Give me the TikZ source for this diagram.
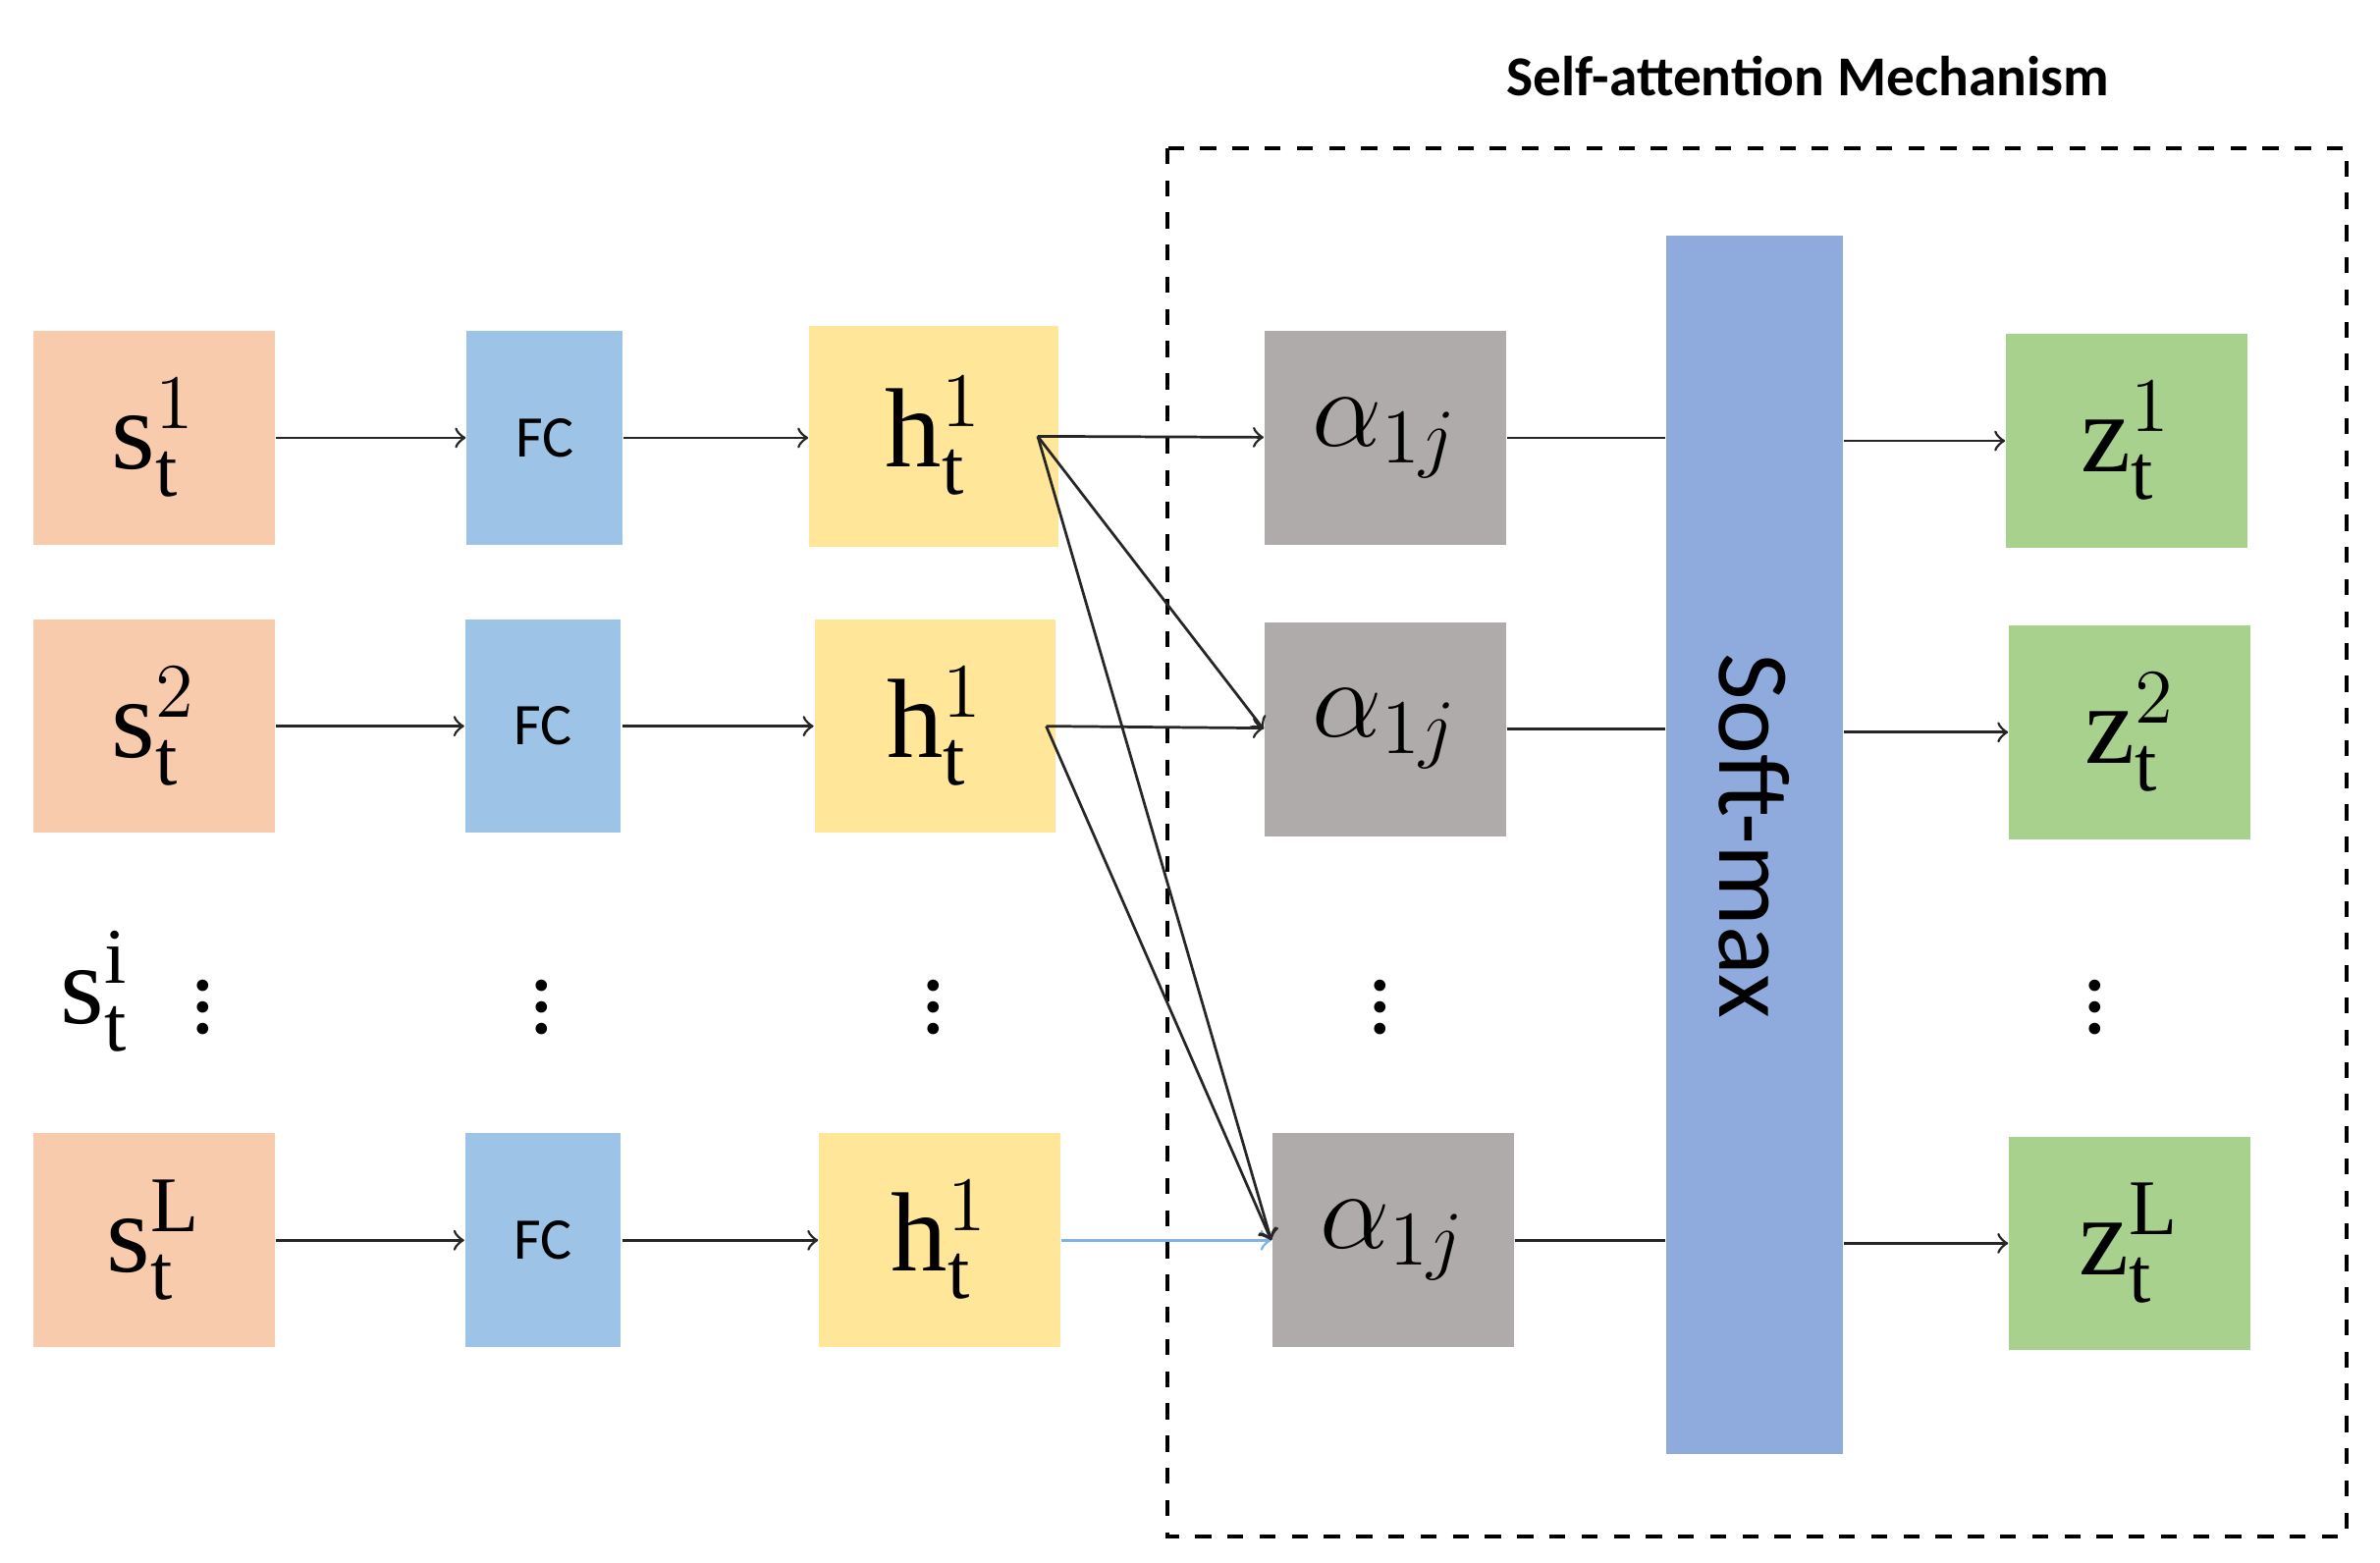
\documentclass[tikz,border=0pt]{standalone}
\usepackage{fontspec}
\setmainfont{Liberation Serif}
\newfontfamily\sansf{Carlito}
\usetikzlibrary{positioning}

\definecolor{scol}{HTML}{F8CBAD}
\definecolor{fccol}{HTML}{9DC3E6}
\definecolor{hcol}{HTML}{FFE699}
\definecolor{acol}{HTML}{AFABAB}
\definecolor{smcol}{HTML}{8FAADC}
\definecolor{zcol}{HTML}{A9D18E}
\definecolor{bluearrow}{HTML}{7DB3E8}

\begin{document}
\begin{tikzpicture}[x=0.01cm,y=-0.01cm,>=to,
  box/.style={minimum width=1.58cm,minimum height=1.4cm,inner sep=0pt,
    font=\fontsize{21}{23}\selectfont},
  fc box/.style={fill=fccol,minimum width=1.02cm,minimum height=1.4cm,inner sep=0pt,
    font=\sansf\fontsize{11}{12}\selectfont},
  flow/.style={->,line width=0.5pt,black!85},
  plain/.style={line width=0.5pt,black!85},
  vdots/.style={inner sep=0pt,font=\fontsize{18}{20}\selectfont}]
  \useasboundingbox (0,0) rectangle (1560,1024);

  % Title and frame
  \node[font=\sansf\bfseries\fontsize{10.5}{12}\selectfont] (title) at (1185,50) {Self-attention Mechanism};
  \draw[line width=0.8pt,dashed] (765,97) rectangle (1538,1007);

  % Inputs
  \node[box,fill=scol] (s1) at (101,287) {$\mathrm{s}_\mathrm{t}^1$};
  \node[box,fill=scol] (s2) at (101,476) {$\mathrm{s}_\mathrm{t}^2$};
  \node[box,fill=scol] (sL) at (101,813) {$\mathrm{s}_\mathrm{t}^\mathrm{L}$};
  \node[inner sep=0pt,font=\fontsize{21}{23}\selectfont] (si) at (62,650) {$\mathrm{s}_\mathrm{t}^\mathrm{i}$};

  % Fully connected layers
  \node[fc box] (fc1) at (357,287) {FC};
  \node[fc box] (fc2) at (356,476) {FC};
  \node[fc box] (fcL) at (356,813) {FC};

  % Hidden states
  \node[box,fill=hcol,minimum width=1.63cm,minimum height=1.45cm] (h1) at (612,286) {$\mathrm{h}_\mathrm{t}^1$};
  \node[box,fill=hcol] (h2) at (613,476) {$\mathrm{h}_\mathrm{t}^1$};
  \node[box,fill=hcol] (hL) at (616,813) {$\mathrm{h}_\mathrm{t}^1$};

  % Attention weights
  \node[box,fill=acol] (a1) at (908,287) {$\alpha_{1j}$};
  \node[box,fill=acol] (a2) at (908,478) {$\alpha_{1j}$};
  \node[box,fill=acol] (aL) at (913,813) {$\alpha_{1j}$};

  % Soft-max
  \node[fill=smcol,minimum width=1.16cm,minimum height=7.98cm,inner sep=0pt] (sm) at (1150,554) {};
  \node[rotate=-90,font=\sansf\fontsize{19}{21}\selectfont] (smlabel) at (1150,548) {Soft-max};

  % Outputs
  \node[box,fill=zcol] (z1) at (1394,289) {$\mathrm{z}_\mathrm{t}^1$};
  \node[box,fill=zcol] (z2) at (1396,480) {$\mathrm{z}_\mathrm{t}^2$};
  \node[box,fill=zcol] (zL) at (1396,815) {$\mathrm{z}_\mathrm{t}^\mathrm{L}$};

  % Dots
  \foreach \x/\n in {133/d1,355/d2,612/d3,905/d4,1373/d5}
    \node[vdots] (\n) at (\x,650) {$\vdots$};

  % Connections
  \draw[flow] (s1) -- (fc1);
  \draw[flow] (s2) -- (fc2);
  \draw[flow] (sL) -- (fcL);
  \draw[flow] (fc1) -- (fc1 -| h1.west);
  \draw[flow] (fc2) -- (h2);
  \draw[flow] (fcL) -- (hL);
  \draw[flow] ([xshift=-4]h1.east) -- (a1);
  \draw[flow] ([xshift=-2]h2.east) -- (a2);
  \draw[->,line width=0.5pt,bluearrow] (hL) -- (aL);
  \draw[flow] ([xshift=-4]h1.east) -- (a2.west);
  \draw[flow] ([xshift=-4]h1.east) -- (aL.west);
  \draw[flow] ([xshift=-2]h2.east) -- (aL.west);
  \draw[plain] (a1) -- (a1 -| sm.west);
  \draw[plain] (a2) -- (a2 -| sm.west);
  \draw[plain] (aL) -- (aL -| sm.west);
  \draw[flow] (z1 -| sm.east) -- (z1);
  \draw[flow] (z2 -| sm.east) -- (z2);
  \draw[flow] (zL -| sm.east) -- (zL);
\end{tikzpicture}
\end{document}
